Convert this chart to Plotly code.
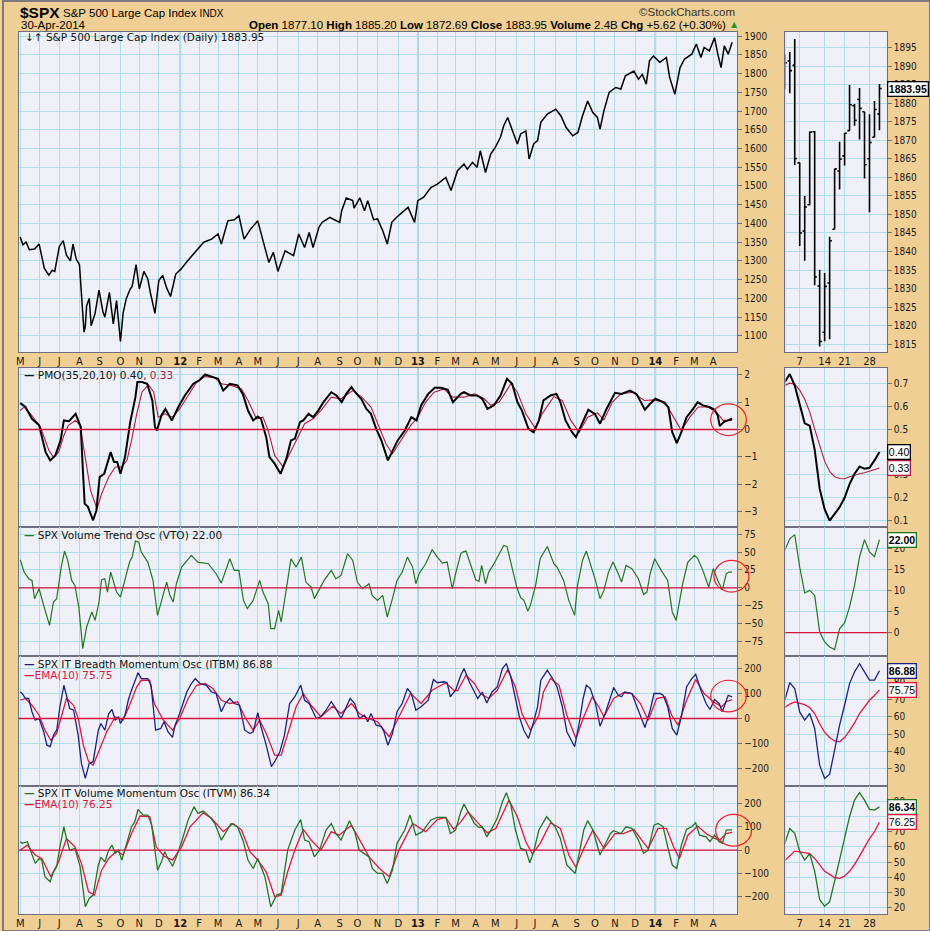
import plotly.graph_objects as go

W, H = 930, 931

# ---------------- data ----------------
price_dates = ['2011-05-02','2011-05-06','2011-05-11','2011-05-16','2011-05-24','2011-05-31','2011-06-08','2011-06-15','2011-06-20','2011-06-24',
 '2011-07-01','2011-07-07','2011-07-12','2011-07-18','2011-07-22','2011-07-27','2011-08-01','2011-08-04','2011-08-08','2011-08-10','2011-08-12',
 '2011-08-16','2011-08-19','2011-08-25','2011-08-31','2011-09-06','2011-09-09','2011-09-16','2011-09-22','2011-09-27','2011-09-30','2011-10-03',
 '2011-10-07','2011-10-12','2011-10-18','2011-10-21','2011-10-27','2011-11-01','2011-11-08','2011-11-14','2011-11-18','2011-11-25','2011-12-01',
 '2011-12-07','2011-12-13','2011-12-19','2011-12-27','2012-01-04','2012-01-13','2012-01-25','2012-02-08','2012-02-20','2012-03-01','2012-03-06',
 '2012-03-16','2012-03-26','2012-04-02','2012-04-10','2012-04-20','2012-05-01','2012-05-09','2012-05-18','2012-05-25','2012-06-01','2012-06-12',
 '2012-06-25','2012-07-03','2012-07-12','2012-07-19','2012-07-25','2012-08-03','2012-08-08','2012-08-20','2012-09-04','2012-09-07','2012-09-14',
 '2012-09-24','2012-09-26','2012-10-05','2012-10-12','2012-10-17','2012-10-26','2012-11-01','2012-11-09','2012-11-16','2012-11-23','2012-11-30',
 '2012-12-11','2012-12-18','2012-12-28','2013-01-02','2013-01-11','2013-01-22','2013-02-01','2013-02-14','2013-02-22','2013-03-04','2013-03-14',
 '2013-03-19','2013-03-27','2013-04-03','2013-04-08','2013-04-16','2013-04-24','2013-05-01','2013-05-09','2013-05-14','2013-05-20','2013-05-27',
 '2013-06-04','2013-06-09','2013-06-17','2013-06-22','2013-06-29','2013-07-05','2013-07-10','2013-07-20','2013-08-02','2013-08-10','2013-08-18',
 '2013-08-28','2013-09-05','2013-09-12','2013-09-20','2013-09-28','2013-10-05','2013-10-09','2013-10-15','2013-10-23','2013-11-02','2013-11-10',
 '2013-11-17','2013-11-30','2013-12-07','2013-12-13','2013-12-19','2013-12-24','2013-12-30','2014-01-09','2014-01-19','2014-01-24','2014-02-01',
 '2014-02-09','2014-02-16','2014-02-27','2014-03-06','2014-03-13','2014-03-18','2014-03-26','2014-04-03','2014-04-08','2014-04-13','2014-04-18',
 '2014-04-24','2014-04-30']
price_vals = [1364,1343,1350,1330,1332,1345,1280,1262,1275,1272,
 1338,1354,1315,1300,1345,1305,1290,1203,1110,1125,1180,
 1200,1127,1160,1222,1165,1150,1216,1132,1194,1135,1085,
 1160,1200,1225,1232,1290,1225,1272,1252,1215,1160,1248,
 1261,1228,1205,1265,1278,1298,1323,1350,1358,1372,1345,
 1407,1410,1421,1358,1385,1407,1354,1296,1323,1272,1327,
 1314,1372,1336,1376,1336,1390,1403,1416,1403,1434,1468,
 1461,1441,1468,1434,1461,1410,1412,1381,1345,1403,1416,
 1434,1443,1403,1461,1470,1496,1505,1523,1488,1541,1559,
 1545,1563,1550,1594,1536,1585,1603,1630,1661,1683,1647,
 1612,1639,1647,1572,1612,1621,1670,1692,1705,1687,1656,
 1634,1643,1687,1727,1696,1683,1652,1701,1750,1763,1759,
 1794,1807,1785,1798,1772,1834,1847,1830,1843,1790,1745,
 1816,1839,1852,1879,1843,1870,1861,1896,1852,1816,1874,
 1852,1883.95]

# April 2014 daily bars (right-hand zoom panel)
apr_days = ['2014-04-02','2014-04-03','2014-04-04','2014-04-07','2014-04-08','2014-04-09','2014-04-10','2014-04-11','2014-04-14','2014-04-15',
            '2014-04-16','2014-04-17','2014-04-21','2014-04-22','2014-04-23','2014-04-24','2014-04-25','2014-04-28','2014-04-29','2014-04-30']
apr_open  = [1886.6,1891.4,1890.2,1863.9,1845.5,1852.6,1872.3,1830.7,1818.2,1831.5,1846.0,1861.7,1865.8,1872.6,1879.3,1881.0,1877.7,1865.0,1870.8,1877.1]
apr_high  = [1893.2,1893.8,1897.3,1864.0,1855.0,1872.4,1872.5,1835.1,1834.2,1844.0,1862.3,1869.6,1871.9,1884.9,1879.8,1884.1,1877.7,1877.0,1880.6,1885.2]
apr_low   = [1883.8,1882.7,1863.3,1841.5,1837.5,1852.4,1830.9,1814.4,1815.8,1816.3,1846.0,1856.7,1863.2,1872.6,1873.9,1870.2,1859.7,1850.6,1870.8,1872.7]
apr_close = [1890.9,1888.8,1865.1,1845.0,1852.0,1872.2,1833.1,1815.7,1830.6,1842.9,1862.3,1864.9,1871.9,1879.6,1875.4,1878.6,1863.4,1869.4,1878.3,1883.95]

# PMO(35,20,10)
pmo_dates = ['2011-05-02','2011-05-10','2011-05-20','2011-05-31','2011-06-10','2011-06-17','2011-06-25','2011-07-03','2011-07-08','2011-07-16',
 '2011-07-26','2011-08-03','2011-08-06','2011-08-09','2011-08-14','2011-08-22','2011-08-27','2011-09-01','2011-09-08','2011-09-18','2011-09-23',
 '2011-09-28','2011-10-03','2011-10-10','2011-10-18','2011-10-26','2011-10-29','2011-11-05','2011-11-13','2011-11-21','2011-11-25','2011-11-28',
 '2011-12-05','2011-12-11','2011-12-21','2011-12-31','2012-01-10','2012-01-23','2012-02-01','2012-02-10','2012-02-20','2012-03-01','2012-03-09',
 '2012-03-19','2012-03-31','2012-04-08','2012-04-16','2012-04-24','2012-05-01','2012-05-06','2012-05-14','2012-05-19','2012-05-27','2012-06-05',
 '2012-06-14','2012-06-21','2012-06-27','2012-07-05','2012-07-10','2012-07-18','2012-07-25','2012-08-02','2012-08-10','2012-08-22','2012-08-30',
 '2012-09-07','2012-09-14','2012-09-22','2012-09-30','2012-10-07','2012-10-15','2012-10-22','2012-10-30','2012-11-07','2012-11-17','2012-11-25',
 '2012-12-02','2012-12-13','2012-12-23','2012-12-31','2013-01-07','2013-01-18','2013-01-28','2013-02-07','2013-02-17','2013-02-25','2013-03-09',
 '2013-03-14','2013-03-24','2013-04-03','2013-04-11','2013-04-19','2013-04-29','2013-05-09','2013-05-19','2013-05-27','2013-06-04','2013-06-11',
 '2013-06-21','2013-06-29','2013-07-07','2013-07-14','2013-07-25','2013-08-03','2013-08-09','2013-08-17','2013-08-27','2013-09-02','2013-09-11',
 '2013-09-21','2013-10-01','2013-10-09','2013-10-19','2013-11-01','2013-11-11','2013-11-24','2013-12-04','2013-12-17','2013-12-25','2014-01-02',
 '2014-01-14','2014-01-22','2014-01-28','2014-02-04','2014-02-11','2014-02-19','2014-03-01','2014-03-08','2014-03-16','2014-03-26','2014-04-03',
 '2014-04-08','2014-04-11','2014-04-17','2014-04-24','2014-04-30']
pmo_vals = [0.96,0.82,0.39,0.15,-0.83,-1.13,-0.95,-0.40,0.33,0.30,
 0.57,0.09,-1.37,-2.71,-2.83,-3.32,-2.96,-1.74,-1.62,-0.83,-1.19,
 -1.19,-1.62,-1.01,0.27,1.18,1.73,1.73,1.67,1.06,0.09,-0.04,
 0.51,0.75,0.33,0.82,1.24,1.67,1.79,2.01,1.93,1.85,1.42,
 1.67,1.61,1.30,0.69,0.33,0.47,0.39,-0.28,-1.01,-1.25,-1.62,
 -1.07,-0.40,-0.34,0.27,0.33,0.57,0.45,0.69,1.00,1.36,1.24,
 1.00,1.30,1.55,1.30,1.12,0.75,0.57,0.02,-0.40,-1.13,-0.77,
 -0.40,-0.04,0.45,0.33,0.88,1.30,1.52,1.52,1.45,1.00,1.30,
 1.36,1.24,1.24,1.12,0.75,0.88,1.24,1.85,1.67,1.00,0.69,
 0.02,-0.10,0.33,1.06,1.24,1.30,1.00,0.33,-0.10,-0.28,0.21,
 0.72,0.57,0.21,0.75,1.34,1.30,1.42,1.30,0.72,0.94,1.12,
 1.00,0.82,-0.10,-0.50,-0.10,0.45,0.75,1.00,0.88,0.82,0.72,
 0.51,0.12,0.27,0.33,0.40]
pmo_sig_dates = ['2011-05-02','2011-05-08','2011-05-20','2011-06-02','2011-06-15','2011-06-22','2011-06-30','2011-07-08','2011-07-15','2011-07-26',
 '2011-08-02','2011-08-10','2011-08-18','2011-08-28','2011-09-04','2011-09-15','2011-09-25','2011-10-05','2011-10-13','2011-10-20','2011-10-28',
 '2011-11-05','2011-11-15','2011-11-23','2011-11-30','2011-12-10','2011-12-22','2012-01-02','2012-01-15','2012-01-28','2012-02-10','2012-02-25',
 '2012-03-06','2012-03-21','2012-04-06','2012-04-16','2012-04-29','2012-05-09','2012-05-17','2012-05-27','2012-06-09','2012-06-19','2012-07-02',
 '2012-07-12','2012-07-25','2012-08-06','2012-08-22','2012-09-06','2012-09-24','2012-10-07','2012-10-22','2012-11-04','2012-11-14','2012-11-24',
 '2012-12-07','2012-12-22','2013-01-02','2013-01-14','2013-01-27','2013-02-11','2013-02-24','2013-03-14','2013-03-30','2013-04-14','2013-04-24',
 '2013-05-07','2013-05-25','2013-06-04','2013-06-17','2013-07-02','2013-07-12','2013-07-30','2013-08-12','2013-08-25','2013-09-07','2013-09-20',
 '2013-10-05','2013-10-15','2013-10-28','2013-11-10','2013-11-28','2013-12-16','2013-12-31','2014-01-17','2014-01-30','2014-02-11','2014-02-24',
 '2014-03-09','2014-03-24','2014-04-06','2014-04-16','2014-04-30']
pmo_sig_vals = [0.69,0.82,0.51,0.09,-0.77,-1.01,-0.83,-0.22,0.15,0.33,
 0.15,-1.13,-2.23,-2.90,-2.35,-1.74,-1.37,-1.37,-1.13,-0.40,0.57,
 1.36,1.64,1.36,0.45,0.57,0.45,0.75,1.24,1.73,1.93,1.89,
 1.67,1.61,1.48,1.06,0.39,0.45,-0.04,-0.95,-1.37,-0.89,-0.22,
 0.21,0.39,0.69,1.18,1.12,1.42,1.20,0.82,0.02,-0.52,-0.89,
 -0.40,0.15,0.45,1.00,1.36,1.48,1.18,1.18,1.30,1.12,0.88,
 1.00,1.67,1.36,0.57,0.02,0.57,1.20,1.06,0.33,-0.10,0.45,
 0.60,0.35,1.00,1.30,1.36,1.06,1.08,1.00,0.45,-0.04,0.45,
 0.82,0.82,0.63,0.33,0.33]
pmo_apr = [0.705,0.74,0.69,0.61,0.525,0.515,0.41,0.24,0.15,0.10,0.127,0.159,0.20,0.26,0.305,0.336,0.327,0.331,0.363,0.40]
pmo_sig_apr = [0.69,0.70,0.695,0.67,0.63,0.575,0.50,0.43,0.36,0.315,0.292,0.284,0.283,0.292,0.30,0.305,0.309,0.316,0.325,0.33]

# Volume Trend Oscillator
vto_dates = ['2011-05-02','2011-05-08','2011-05-15','2011-05-20','2011-05-24','2011-05-31','2011-06-07','2011-06-16','2011-06-22','2011-06-27',
 '2011-07-04','2011-07-09','2011-07-14','2011-07-20','2011-07-25','2011-07-31','2011-08-06','2011-08-12','2011-08-20','2011-08-25','2011-08-31',
 '2011-09-04','2011-09-09','2011-09-13','2011-09-18','2011-09-27','2011-10-03','2011-10-11','2011-10-17','2011-10-21','2011-10-26','2011-10-31',
 '2011-11-04','2011-11-14','2011-11-22','2011-11-29','2011-12-05','2011-12-13','2011-12-18','2011-12-23','2011-12-28','2012-01-05','2012-01-20',
 '2012-01-30','2012-02-15','2012-02-27','2012-03-06','2012-03-12','2012-03-19','2012-03-26','2012-04-02','2012-04-09','2012-04-15','2012-04-24',
 '2012-05-04','2012-05-09','2012-05-17','2012-05-21','2012-05-27','2012-06-02','2012-06-06','2012-06-14','2012-06-21','2012-06-29','2012-07-07',
 '2012-07-14','2012-07-22','2012-07-27','2012-08-04','2012-08-11','2012-08-22','2012-08-29','2012-09-06','2012-09-16','2012-09-24','2012-10-01',
 '2012-10-09','2012-10-19','2012-10-24','2012-11-01','2012-11-09','2012-11-16','2012-11-24','2012-12-01','2012-12-09','2012-12-17','2012-12-25',
 '2012-12-30','2013-01-04','2013-01-14','2013-01-24','2013-02-01','2013-02-09','2013-02-16','2013-02-24','2013-03-01','2013-03-09','2013-03-12',
 '2013-03-17','2013-03-24','2013-04-01','2013-04-06','2013-04-10','2013-04-16','2013-04-21','2013-04-29','2013-05-07','2013-05-14','2013-05-19',
 '2013-05-27','2013-06-03','2013-06-09','2013-06-14','2013-06-20','2013-06-24','2013-07-02','2013-07-09','2013-07-20','2013-07-30','2013-08-04',
 '2013-08-14','2013-08-22','2013-08-31','2013-09-04','2013-09-12','2013-09-18','2013-09-24','2013-10-02','2013-10-09','2013-10-15','2013-10-22',
 '2013-10-29','2013-11-06','2013-11-11','2013-11-18','2013-11-27','2013-12-07','2013-12-15','2013-12-20','2013-12-25','2014-01-01','2014-01-11',
 '2014-01-21','2014-01-28','2014-02-03','2014-02-08','2014-02-13','2014-02-21','2014-03-03','2014-03-08','2014-03-16','2014-03-25','2014-04-01',
 '2014-04-08','2014-04-15','2014-04-21','2014-04-25','2014-04-30']
vto_vals = [39.2,22,12.8,10.4,-15,-1.2,-24.4,-52.2,-19.7,-15,
 29,51.3,38.3,10.4,3.5,-26.7,-84.7,-54.5,-33.7,-45.3,-19.7,
 11.4,12.8,-5.8,22,-5.8,-12.8,15.1,36,42.9,65.2,63.8,
 49.9,36,10.4,-38.3,-19.7,8.1,-10.4,-19.7,5.8,29,45.3,
 36,33.7,19.7,6.7,22,40.6,24.4,24.4,-17.4,-29,-17.4,
 10.4,-5.8,-22,-56.9,-56.9,-31.3,-47.6,-1.2,40.6,29,42.9,
 8.1,1.2,-15,-1.2,10.4,24.4,12.8,17.4,47.6,38.3,8.1,
 -1.2,5.8,-10.4,-17.4,-10.4,-40.6,-15,10.4,22,42.9,29,
 5.8,19.7,33.7,53.2,42.9,34.6,36,-1.2,19.7,47.6,49.9,
 51.3,33.7,11.4,9.1,31.3,5.8,22,33.7,47.6,59.2,57.8,
 29,1.2,-13.7,-17.4,-32.3,-24.4,3.5,40.6,57.8,33.7,29,
 10.4,-17.4,-38.3,1.2,38.3,51.3,33.7,10.4,-15,-3.5,22,
 36,19.7,8.1,31.3,26.7,12.8,-9.1,-5.8,19.7,40.6,24.4,
 10.4,-33.7,-45.3,-22,5.8,36,45.3,41.3,24.4,1.2,26.7,
 10.4,-2.6,19.7,22,22.0]
vto_apr = [19.5,22.2,23.2,15.5,9.4,10,8.8,0.2,-2.2,-3.4,-4.0,0.9,2.3,6.1,11.2,17.9,22,19.1,18.0,22.0]

# IT Breadth Momentum Oscillator and its EMA(10)
itbm_dates = ['2011-05-02','2011-05-05','2011-05-10','2011-05-15','2011-05-20','2011-05-25','2011-05-31','2011-06-07','2011-06-12','2011-06-17',
 '2011-06-22','2011-06-27','2011-07-02','2011-07-08','2011-07-12','2011-07-17','2011-07-23','2011-07-30','2011-08-04','2011-08-10','2011-08-16',
 '2011-08-22','2011-08-30','2011-09-03','2011-09-09','2011-09-15','2011-09-20','2011-09-25','2011-09-30','2011-10-03','2011-10-10','2011-10-15',
 '2011-10-20','2011-10-25','2011-10-30','2011-11-04','2011-11-14','2011-11-19','2011-11-26','2011-12-04','2011-12-09','2011-12-15','2011-12-22',
 '2011-12-26','2012-01-02','2012-01-13','2012-01-20','2012-01-26','2012-02-02','2012-02-12','2012-02-20','2012-02-27','2012-03-06','2012-03-12',
 '2012-03-19','2012-03-26','2012-04-03','2012-04-11','2012-04-19','2012-04-24','2012-05-01','2012-05-06','2012-05-14','2012-05-22','2012-05-27',
 '2012-06-04','2012-06-11','2012-06-19','2012-06-27','2012-07-06','2012-07-12','2012-07-19','2012-07-25','2012-07-30','2012-08-06','2012-08-14',
 '2012-08-22','2012-08-29','2012-09-06','2012-09-14','2012-09-20','2012-09-27','2012-10-04','2012-10-12','2012-10-17','2012-10-22','2012-10-30',
 '2012-11-07','2012-11-11','2012-11-17','2012-11-24','2012-12-01','2012-12-09','2012-12-17','2012-12-23','2012-12-30','2013-01-07','2013-01-18',
 '2013-01-26','2013-02-01','2013-02-11','2013-02-16','2013-02-21','2013-03-01','2013-03-09','2013-03-14','2013-03-22','2013-03-30','2013-04-04',
 '2013-04-11','2013-04-18','2013-04-26','2013-05-04','2013-05-12','2013-05-18','2013-05-25','2013-06-01','2013-06-07','2013-06-14','2013-06-21',
 '2013-06-29','2013-07-05','2013-07-10','2013-07-20','2013-07-28','2013-08-04','2013-08-12','2013-08-19','2013-08-31','2013-09-07','2013-09-13',
 '2013-09-18','2013-09-24','2013-10-02','2013-10-09','2013-10-17','2013-10-30','2013-11-06','2013-11-11','2013-11-16','2013-11-27','2013-12-07',
 '2013-12-17','2013-12-25','2013-12-31','2014-01-09','2014-01-14','2014-01-21','2014-01-28','2014-02-04','2014-02-11','2014-02-19','2014-02-27',
 '2014-03-05','2014-03-13','2014-03-21','2014-03-27','2014-04-03','2014-04-10','2014-04-15','2014-04-20','2014-04-24','2014-04-30']
itbm_vals = [106,100,80,80,27,-7,0,-53,-107,-113,
 -67,-47,47,133,93,40,33,-67,-180,-240,-180,
 -173,-47,-20,-47,20,36,-7,7,-20,13,73,
 113,147,183,160,160,133,-47,-40,-13,-53,-76,
 -27,20,106,140,160,140,133,106,100,27,60,
 80,60,53,-47,-60,-53,23,-33,-107,-193,-173,
 -133,-67,60,87,133,73,60,27,0,7,33,
 67,40,0,47,80,60,0,13,-13,20,-27,
 -33,-53,-107,-60,27,60,120,100,33,47,73,
 156,143,147,143,87,113,173,200,147,106,80,
 106,62,106,126,200,220,166,87,7,-47,-80,
 -13,47,153,193,160,126,47,-53,-113,-20,80,
 133,120,60,-31,20,124,93,87,106,100,33,
 -36,33,100,100,93,47,-40,-67,7,126,160,
 177,113,60,36,76,60,27,67,93,86.88]
itbm_ema_dates = ['2011-05-02','2011-05-10','2011-05-20','2011-05-31','2011-06-09','2011-06-18','2011-06-27','2011-07-05','2011-07-12','2011-07-23',
 '2011-07-30','2011-08-07','2011-08-15','2011-08-22','2011-09-02','2011-09-12','2011-09-25','2011-10-07','2011-10-17','2011-10-28','2011-11-04',
 '2011-11-17','2011-11-24','2011-12-08','2011-12-22','2012-01-02','2012-01-15','2012-01-28','2012-02-10','2012-02-22','2012-03-06','2012-03-19',
 '2012-03-31','2012-04-11','2012-04-24','2012-05-04','2012-05-14','2012-05-27','2012-06-06','2012-06-16','2012-06-29','2012-07-10','2012-07-22',
 '2012-08-06','2012-08-24','2012-09-06','2012-09-22','2012-10-04','2012-10-17','2012-11-01','2012-11-19','2012-12-04','2012-12-22','2013-01-07',
 '2013-01-24','2013-02-14','2013-02-26','2013-03-04','2013-03-17','2013-03-30','2013-04-08','2013-04-21','2013-05-04','2013-05-20','2013-06-01',
 '2013-06-11','2013-06-24','2013-07-07','2013-07-14','2013-07-25','2013-08-07','2013-08-19','2013-09-02','2013-09-14','2013-09-27','2013-10-07',
 '2013-10-15','2013-10-30','2013-11-14','2013-11-27','2013-12-10','2013-12-22','2014-01-04','2014-01-17','2014-01-27','2014-02-06','2014-02-19',
 '2014-03-05','2014-03-18','2014-04-01','2014-04-14','2014-04-21','2014-04-30']
itbm_ema_vals = [73,80,53,13,-47,-87,-60,20,80,53,
 0,-107,-173,-187,-113,-53,7,-7,53,127,153,
 153,60,-7,-47,0,80,133,140,120,73,60,
 67,7,-47,-7,-60,-147,-147,-60,47,100,53,
 7,49,20,60,20,0,-13,-73,7,100,60,
 113,143,113,111,173,140,100,80,113,196,126,
 20,-47,13,106,160,133,13,-80,7,87,47,
 7,80,103,100,60,-7,80,87,13,-27,73,
 156,100,67,47,67,75.75]
itbm_apr = [69.7,80,76.5,62.9,58.1,62,53.3,31.9,24.2,26.7,40.7,55.2,66.8,79.4,86.2,91,86.2,81.4,81.4,86.88]
itbm_ema_apr = [65.5,67.5,68.8,68.2,67.2,65.5,62,56,51,48,46,45.5,48,52,56.5,62,66,69.7,72.5,75.75]

# IT Volume Momentum Oscillator and its EMA(10)
itvm_dates = ['2011-05-02','2011-05-05','2011-05-13','2011-05-20','2011-05-25','2011-05-31','2011-06-04','2011-06-09','2011-06-17','2011-06-22',
 '2011-06-27','2011-07-02','2011-07-08','2011-07-12','2011-07-17','2011-07-25','2011-08-02','2011-08-10','2011-08-16','2011-08-22','2011-08-30',
 '2011-09-03','2011-09-09','2011-09-15','2011-09-20','2011-09-25','2011-09-30','2011-10-05','2011-10-13','2011-10-20','2011-10-25','2011-10-30',
 '2011-11-07','2011-11-14','2011-11-20','2011-11-29','2011-12-05','2011-12-10','2011-12-15','2011-12-22','2011-12-28','2012-01-05','2012-01-15',
 '2012-01-24','2012-01-30','2012-02-07','2012-02-17','2012-02-25','2012-03-06','2012-03-12','2012-03-21','2012-03-31','2012-04-09','2012-04-16',
 '2012-04-24','2012-05-01','2012-05-12','2012-05-21','2012-05-30','2012-06-06','2012-06-16','2012-06-27','2012-07-06','2012-07-12','2012-07-19',
 '2012-07-27','2012-08-04','2012-08-14','2012-08-22','2012-08-29','2012-09-06','2012-09-19','2012-09-27','2012-10-04','2012-10-12','2012-10-19',
 '2012-10-24','2012-11-01','2012-11-09','2012-11-16','2012-11-24','2012-12-01','2012-12-13','2012-12-21','2012-12-30','2013-01-09','2013-01-22',
 '2013-02-01','2013-02-14','2013-02-21','2013-03-01','2013-03-09','2013-03-14','2013-03-22','2013-03-30','2013-04-06','2013-04-11','2013-04-18',
 '2013-04-26','2013-05-04','2013-05-12','2013-05-18','2013-05-25','2013-06-01','2013-06-09','2013-06-17','2013-06-23','2013-06-29','2013-07-07',
 '2013-07-19','2013-07-25','2013-08-01','2013-08-09','2013-08-19','2013-09-01','2013-09-09','2013-09-14','2013-09-20','2013-09-28','2013-10-09',
 '2013-10-15','2013-10-25','2013-10-30','2013-11-10','2013-11-18','2013-11-27','2013-12-07','2013-12-15','2013-12-22','2013-12-31','2014-01-06',
 '2014-01-14','2014-01-21','2014-01-28','2014-02-04','2014-02-11','2014-02-19','2014-02-27','2014-03-05','2014-03-11','2014-03-21','2014-03-27',
 '2014-04-03','2014-04-10','2014-04-15','2014-04-21','2014-04-30']
itvm_vals = [36,29,36,-21,-57,-36,-43,-114,-136,-93,
 -71,14,100,50,0,7,-71,-243,-207,-193,-64,
 -31,-50,0,21,-14,0,-43,29,100,121,174,
 150,150,107,-86,-50,-7,-36,-69,-29,36,129,
 186,157,167,143,114,43,71,114,100,36,-43,
 -79,-36,-114,-243,-193,-186,0,86,131,43,36,
 -29,0,86,114,71,43,126,79,0,-14,-29,
 -79,-100,-100,-143,-86,29,86,150,64,79,129,
 140,140,71,86,164,197,157,114,97,100,57,
 93,136,207,246,193,86,7,0,-54,-7,86,
 143,121,100,50,-64,-100,14,86,126,86,-21,
 14,71,83,71,100,93,43,-14,0,107,114,
 100,14,-64,-79,21,89,100,117,64,57,36,
 64,36,29,86,86.34]
itvm_ema_dates = ['2011-05-02','2011-05-13','2011-05-25','2011-06-04','2011-06-18','2011-06-30','2011-07-12','2011-07-25','2011-08-04','2011-08-15',
 '2011-08-24','2011-09-04','2011-09-15','2011-09-27','2011-10-07','2011-10-20','2011-11-02','2011-11-17','2011-11-27','2011-12-09','2011-12-22',
 '2012-01-05','2012-01-18','2012-02-07','2012-02-20','2012-03-09','2012-03-24','2012-04-06','2012-04-19','2012-05-01','2012-05-14','2012-05-27',
 '2012-06-06','2012-06-16','2012-06-27','2012-07-10','2012-07-22','2012-08-06','2012-08-22','2012-09-03','2012-09-22','2012-10-07','2012-10-19',
 '2012-11-04','2012-11-19','2012-12-04','2012-12-25','2013-01-14','2013-02-01','2013-02-14','2013-02-26','2013-03-09','2013-03-20','2013-04-03',
 '2013-04-19','2013-05-02','2013-05-22','2013-06-04','2013-06-17','2013-06-27','2013-07-09','2013-07-25','2013-08-09','2013-08-22','2013-09-02',
 '2013-09-14','2013-09-28','2013-10-15','2013-11-01','2013-11-14','2013-11-30','2013-12-12','2013-12-22','2014-01-06','2014-01-19','2014-01-30',
 '2014-02-08','2014-02-21','2014-03-08','2014-03-21','2014-04-03','2014-04-11','2014-04-21','2014-04-30']
itvm_ema_vals = [0,21,-21,-36,-114,-50,50,14,-57,-179,
 -193,-86,-36,-3,-21,71,146,143,14,-26,-43,
 14,100,160,136,79,114,86,-7,-43,-93,-200,
 -193,-93,0,89,43,0,79,64,107,29,-29,
 -79,-114,0,114,79,131,140,89,121,164,121,
 74,93,214,143,36,-17,29,117,93,-21,-74,
 7,86,7,71,71,89,43,7,93,93,14,
 -36,64,103,71,50,43,71,76.25]
itvm_apr = [62,72.2,69,57,51.4,55.7,44,25.5,21,23.9,37.5,51.4,64.5,79.9,90.8,95.7,90.8,84.7,84.3,86.34]
itvm_ema_apr = [51,54.5,57.3,56.8,56.2,55.7,52.5,48,44,42,39.8,39.3,40.8,44,48.5,54,60,65.5,70,76.25]

# axis labels
month_ticks = ['2011-05-02','2011-06-01','2011-07-01','2011-08-01','2011-09-01','2011-10-03','2011-11-01','2011-12-01',
 '2012-01-03','2012-02-01','2012-03-01','2012-04-02','2012-05-01','2012-06-01','2012-07-02','2012-08-01','2012-09-04','2012-10-01','2012-11-01','2012-12-03',
 '2013-01-02','2013-02-01','2013-03-01','2013-04-01','2013-05-01','2013-06-03','2013-07-01','2013-08-01','2013-09-03','2013-10-01','2013-11-01','2013-12-02',
 '2014-01-02','2014-02-03','2014-03-03','2014-04-01']
month_labels = ['M','J','J','A','S','O','N','D','<b>12</b>','F','M','A','M','J','J','A','S','O','N','D',
 '<b>13</b>','F','M','A','M','J','J','A','S','O','N','D','<b>14</b>','F','M','A']
year_starts = ['2012-01-03','2013-01-02','2014-01-02']
week_ticks = ['2014-04-07','2014-04-14','2014-04-21','2014-04-28']
week_labels = ['7','14','21','28']

# ---------------- styling ----------------
TAN = '#EFCF93'
PANEL = '#EFF0F7'
GRID = '#ADDDE9'
YEARGRID = '#7CC6DD'
ZERO = '#D8123A'
SIG = '#B31B42'
GREEN = '#237523'
NAVY = '#1C2180'
EMARED = '#E3153E'
AXLINE = '#6E6E80'
TXT = '#111111'
TICKFONT = dict(family='DejaVu Sans Condensed, DejaVu Sans, sans-serif', size=10, color='#1a1a1a')
LEGFONT = dict(family='DejaVu Sans, Verdana, sans-serif', size=10.5, color=TXT)
NARROW = 'Liberation Sans Narrow, Arial Narrow, Liberation Sans, sans-serif'

def px_x(p):
    return p / W

def px_y(p):
    return 1 - p / H

LX = [px_x(16), px_x(736.7)]
RX = [px_x(785), px_x(886.7)]
ROWS = {
    'main': [px_y(351.7), px_y(30.7)],
    'pmo': [px_y(526.7), px_y(367)],
    'vto': [px_y(656), px_y(527)],
    'itbm': [px_y(786), px_y(656)],
    'itvm': [px_y(914), px_y(786)],
}

fig = go.Figure()

def line(x, y, ax, color, width):
    xa, ya = ax
    fig.add_trace(go.Scatter(x=x, y=y, mode='lines', line=dict(color=color, width=width),
                             xaxis=xa, yaxis=ya, showlegend=False, hoverinfo='skip'))

# main price
line(price_dates, price_vals, ('x', 'y'), 'black', 1.5)
fig.add_trace(go.Ohlc(x=apr_days, open=apr_open, high=apr_high, low=apr_low, close=apr_close,
                      increasing=dict(line=dict(color='black', width=1.6)),
                      decreasing=dict(line=dict(color='black', width=1.6)),
                      tickwidth=0.45, xaxis='x2', yaxis='y2', showlegend=False, hoverinfo='skip'))
# PMO
line(pmo_sig_dates, pmo_sig_vals, ('x3', 'y3'), SIG, 1.1)
line(pmo_dates, pmo_vals, ('x3', 'y3'), 'black', 2.0)
line(apr_days, pmo_sig_apr, ('x4', 'y4'), SIG, 1.1)
line(apr_days, pmo_apr, ('x4', 'y4'), 'black', 2.0)
# VTO
line(vto_dates, vto_vals, ('x5', 'y5'), GREEN, 1.2)
line(apr_days, vto_apr, ('x6', 'y6'), GREEN, 1.2)
# ITBM
line(itbm_ema_dates, itbm_ema_vals, ('x7', 'y7'), EMARED, 1.3)
line(itbm_dates, itbm_vals, ('x7', 'y7'), NAVY, 1.3)
line(apr_days, itbm_ema_apr, ('x8', 'y8'), EMARED, 1.3)
line(apr_days, itbm_apr, ('x8', 'y8'), NAVY, 1.3)
# ITVM
line(itvm_ema_dates, itvm_ema_vals, ('x9', 'y9'), EMARED, 1.3)
line(itvm_dates, itvm_vals, ('x9', 'y9'), GREEN, 1.3)
line(apr_days, itvm_ema_apr, ('x10', 'y10'), EMARED, 1.3)
line(apr_days, itvm_apr, ('x10', 'y10'), GREEN, 1.3)

layout = dict(
    width=W, height=H, margin=dict(l=0, r=0, t=0, b=0),
    paper_bgcolor=TAN, plot_bgcolor=PANEL, showlegend=False, hovermode=False,
)

def left_x(name, labels, anchor):
    layout[name] = dict(domain=LX, type='date', range=['2011-04-30', '2014-05-08'],
                        tickvals=month_ticks, ticktext=month_labels, showticklabels=labels,
                        showgrid=True, gridcolor=GRID, gridwidth=1, ticks='', zeroline=False,
                        showline=True, mirror=True, linecolor=AXLINE, linewidth=1,
                        tickfont=dict(family='DejaVu Sans, sans-serif', size=10, color='#1a1a1a'),
                        anchor=anchor, rangeslider=dict(visible=False), fixedrange=True)

def right_x(name, labels, anchor):
    layout[name] = dict(domain=RX, type='category', categoryorder='array', categoryarray=apr_days,
                        range=[0.14, 20.48], tickvals=week_ticks, ticktext=week_labels, showticklabels=labels,
                        showgrid=True, gridcolor=GRID, ticks='', zeroline=False,
                        showline=True, mirror=True, linecolor=AXLINE, linewidth=1,
                        tickfont=dict(family='DejaVu Sans, sans-serif', size=10, color='#1a1a1a'),
                        anchor=anchor, rangeslider=dict(visible=False), fixedrange=True)

def yax(name, dom, rng, tv, anchor, fmt=None):
    d = dict(domain=dom, range=rng, tickvals=tv, side='right', anchor=anchor,
             showgrid=True, gridcolor=GRID, zeroline=False, ticks='outside', ticklen=4,
             tickcolor=AXLINE, showline=True, mirror=True, linecolor=AXLINE, linewidth=1,
             tickfont=TICKFONT, fixedrange=True)
    if fmt:
        d['tickformat'] = fmt
    layout[name] = d

left_x('xaxis', True, 'y')
right_x('xaxis2', True, 'y2')
left_x('xaxis3', False, 'y3')
right_x('xaxis4', False, 'y4')
left_x('xaxis5', False, 'y5')
right_x('xaxis6', False, 'y6')
left_x('xaxis7', False, 'y7')
right_x('xaxis8', False, 'y8')
left_x('xaxis9', True, 'y9')
right_x('xaxis10', True, 'y10')

yax('yaxis', ROWS['main'], [1056, 1912], list(range(1100, 1901, 50)), 'x')
yax('yaxis2', ROWS['main'], [1812.8, 1899.3], list(range(1815, 1896, 5)), 'x2')
yax('yaxis3', ROWS['pmo'], [-3.57, 2.26], [-3, -2, -1, 0, 1, 2], 'x3')
yax('yaxis4', ROWS['pmo'], [0.072, 0.768], [0.1, 0.2, 0.3, 0.4, 0.5, 0.6, 0.7], 'x4', '.1f')
yax('yaxis5', ROWS['vto'], [-95.4, 84.3], [-75, -50, -25, 0, 25, 50, 75], 'x5')
yax('yaxis6', ROWS['vto'], [-5.6, 24.9], [0, 5, 10, 15, 20], 'x6')
yax('yaxis7', ROWS['itbm'], [-271, 249], [-200, -100, 0, 100, 200], 'x7')
yax('yaxis8', ROWS['itbm'], [19.7, 95.3], [30, 40, 50, 60, 70, 80], 'x8')
yax('yaxis9', ROWS['itvm'], [-274, 274], [-200, -100, 0, 100, 200], 'x9')
yax('yaxis10', ROWS['itvm'], [15.9, 100], [20, 30, 40, 50, 60, 70, 80, 90], 'x10')

fig.update_layout(**layout)

shapes = []
# year gridlines
for xa, ya in [('x', 'y'), ('x3', 'y3'), ('x5', 'y5'), ('x7', 'y7'), ('x9', 'y9')]:
    for ys in year_starts:
        shapes.append(dict(type='line', xref=xa, yref=ya + ' domain', x0=ys, x1=ys, y0=0, y1=1,
                           line=dict(color=YEARGRID, width=1.6), layer='below'))
# zero lines
for xa, ya in [('x3', 'y3'), ('x5', 'y5'), ('x6', 'y6'), ('x7', 'y7'), ('x9', 'y9')]:
    shapes.append(dict(type='line', xref=xa + ' domain', yref=ya, x0=0, x1=1, y0=0, y1=0,
                       line=dict(color=ZERO, width=1.4)))
# red highlight circles (px boxes)
for (x0, x1, y0, y1) in [(710, 745.7, 403.3, 435), (713.3, 748.3, 560, 591.7),
                         (710, 745.7, 680, 711.7), (715, 751, 814.3, 846)]:
    shapes.append(dict(type='circle', xref='paper', yref='paper', x0=px_x(x0), x1=px_x(x1),
                       y0=px_y(y1), y1=px_y(y0), line=dict(color='#E8202A', width=1.2)))
# outer frame
shapes.append(dict(type='rect', xref='paper', yref='paper', x0=0, x1=1, y0=0, y1=1,
                   line=dict(color='#7A7A80', width=2)))
fig.update_layout(shapes=shapes)

ann = []
def text(x, y, s, font, xanchor='left', yanchor='middle', **kw):
    ann.append(dict(x=px_x(x), y=px_y(y), xref='paper', yref='paper', text=s, showarrow=False,
                    xanchor=xanchor, yanchor=yanchor, font=font, **kw))

# header
text(15, 11.5, '<b>$SPX</b>', dict(family=NARROW, size=15.5, color='black'))
text(58, 12, 'S&amp;P 500 Large Cap Index <span style="font-size:10px">INDX</span>', dict(family=NARROW, size=11.5, color='black'))
text(16, 24, '30-Apr-2014', dict(family=NARROW, size=11.5, color='black'))
text(727, 24, '<b>Open</b> 1877.10 <b>High</b> 1885.20 <b>Low</b> 1872.69 <b>Close</b> 1883.95 '
              '<b>Volume</b> 2.4B <b>Chg</b> +5.62 (+0.30%)',
     dict(family=NARROW, size=11.5, color='black'), xanchor='right')
text(728, 24, '▲', dict(family='DejaVu Sans', size=8, color='#1E9A2E'))
text(736, 11, '©StockCharts.com', dict(family=NARROW, size=11.5, color='#333333'), xanchor='right')

# panel legends
text(20, 36, '↓↑ S&amp;P 500 Large Cap Index (Daily) 1883.95', LEGFONT)
text(19, 374, '<b>—</b> PMO(35,20,10) 0.40, <span style="color:%s">0.33</span>' % SIG, LEGFONT)
text(19, 535, '<span style="color:%s"><b>—</b></span> SPX Volume Trend Osc (VTO) 22.00' % GREEN, LEGFONT)
text(19, 663.5, '<span style="color:%s"><b>—</b></span> SPX IT Breadth Momentum Osc (ITBM) 86.88' % NAVY, LEGFONT)
text(19, 674.5, '<span style="color:%s"><b>—</b>EMA(10) 75.75</span>' % EMARED, LEGFONT)
text(19, 793, '<span style="color:%s"><b>—</b></span> SPX IT Volume Momentum Osc (ITVM) 86.34' % GREEN, LEGFONT)
text(19, 803.5, '<span style="color:%s"><b>—</b>EMA(10) 76.25</span>' % EMARED, LEGFONT)

# value tags on the right edge of mini panels
def tag(yref, yval, s, border, bold=True):
    ann.append(dict(x=px_x(886.5), y=yval, xref='paper', yref=yref, text=('<b>%s</b>' % s) if bold else s,
                    showarrow=False, xanchor='left', yanchor='middle',
                    font=dict(family='Liberation Sans, Arial, sans-serif', size=10.5, color='black'),
                    bgcolor='white', bordercolor=border, borderwidth=1.3, borderpad=0.5))

tag('y2', apr_close[-1], '1883.95', 'black')
tag('y4', pmo_apr[-1], '0.40', 'black', False)
tag('y4', pmo_sig_apr[-1], '0.33', SIG, False)
tag('y6', vto_apr[-1], '22.00', GREEN)
tag('y8', itbm_apr[-1], '86.88', NAVY)
tag('y8', itbm_ema_apr[-1], '75.75', EMARED, False)
tag('y10', itvm_apr[-1], '86.34', GREEN)
tag('y10', itvm_ema_apr[-1], '76.25', EMARED, False)

fig.update_layout(annotations=ann)

fig.write_html('out.html', include_plotlyjs=True, full_html=True, config={'displayModeBar': False, 'staticPlot': True})
